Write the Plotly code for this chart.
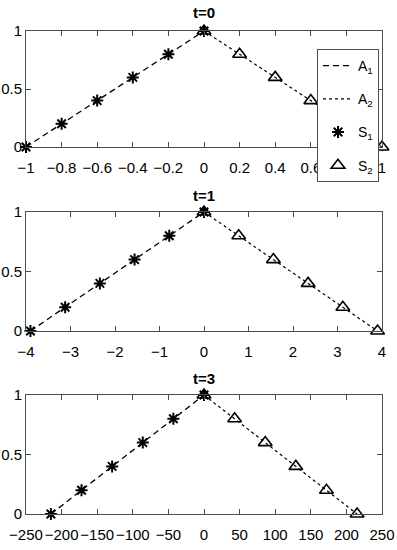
import plotly.graph_objects as go

# ---- data ----
titles = ["t=0", "t=1", "t=3"]
y_left = [0, 0.2, 0.4, 0.6, 0.8, 1]
y_right = [1, 0.8, 0.6, 0.4, 0.2, 0]

x_s1 = [
    [-1, -0.8, -0.6, -0.4, -0.2, 0],
    [-3.9, -3.12, -2.34, -1.56, -0.78, 0],
    [-215, -172, -129, -86, -43, 0],
]
x_s2 = [
    [0, 0.2, 0.4, 0.6, 0.8, 1],
    [0, 0.78, 1.56, 2.34, 3.12, 3.9],
    [0, 43, 86, 129, 172, 215],
]
x_ranges = [[-1, 1], [-4, 4], [-250, 250]]
x_ticks = [
    [-1, -0.8, -0.6, -0.4, -0.2, 0, 0.2, 0.4, 0.6, 0.8, 1],
    [-4, -3, -2, -1, 0, 1, 2, 3, 4],
    [-250, -200, -150, -100, -50, 0, 50, 100, 150, 200, 250],
]
y_ticks = [0, 0.5, 1]
y_ticktext = ["0", "0.5", "1"]

W, H = 397, 550
FONT = "Liberation Sans, Arial, sans-serif"
AX = "#4d4d4d"

# pixel boxes (left, right, top, bottom)
boxes = [(26, 382, 31, 147), (26, 382, 212, 331), (26, 382, 395, 514)]


def px(v):
    return v / W


def py(v):
    return 1 - v / H


fig = go.Figure()
for i in range(3):
    xa = "x" if i == 0 else f"x{i+1}"
    ya = "y" if i == 0 else f"y{i+1}"
    show = i == 0
    fig.add_trace(go.Scatter(x=x_s1[i], y=y_left, mode="lines", xaxis=xa, yaxis=ya,
                             line=dict(color="black", width=1.3, dash="6px,4px"),
                             name="A<sub>1</sub>", showlegend=show, legendgroup="a1",
                             cliponaxis=False))
    fig.add_trace(go.Scatter(x=x_s2[i], y=y_right, mode="lines", xaxis=xa, yaxis=ya,
                             line=dict(color="black", width=1.2, dash="dot"),
                             name="A<sub>2</sub>", showlegend=show, legendgroup="a2",
                             cliponaxis=False))
    fig.add_trace(go.Scatter(x=x_s1[i], y=y_left, mode="markers", xaxis=xa, yaxis=ya,
                             marker=dict(symbol="asterisk-open", size=10, color="black",
                                         line=dict(color="black", width=2)),
                             name="S<sub>1</sub>", showlegend=show, legendgroup="s1",
                             cliponaxis=False))
    fig.add_trace(go.Scatter(x=x_s2[i], y=y_right, mode="markers", xaxis=xa, yaxis=ya,
                             marker=dict(symbol="triangle-up-open", size=12, color="black",
                                         line=dict(color="black", width=1.6)),
                             name="S<sub>2</sub>", showlegend=show, legendgroup="s2",
                             cliponaxis=False))

layout = dict(
    width=W, height=H,
    margin=dict(l=0, r=0, t=0, b=0, autoexpand=False),
    paper_bgcolor="white", plot_bgcolor="white",
    font=dict(family=FONT, size=15, color="black"),
    showlegend=True,
    legend=dict(x=px(317), y=py(49), xanchor="left", yanchor="top",
                bgcolor="white", bordercolor=AX, borderwidth=1,
                traceorder="grouped", tracegroupgap=12,
                font=dict(family=FONT, size=14), itemwidth=30),
)
annotations = []
for i, (l, r, t, b) in enumerate(boxes):
    xk = "xaxis" if i == 0 else f"xaxis{i+1}"
    yk = "yaxis" if i == 0 else f"yaxis{i+1}"
    yref = "y" if i == 0 else f"y{i+1}"
    xref = "x" if i == 0 else f"x{i+1}"
    layout[xk] = dict(domain=[px(l), px(r)], range=x_ranges[i],
                      tickvals=x_ticks[i],
                      anchor=yref, showline=True, linecolor=AX, linewidth=1,
                      mirror="ticks", ticks="inside", ticklen=5, tickcolor=AX,
                      showgrid=False, zeroline=False, automargin=False, tickangle=0,
                      ticklabelstandoff=7,
                      tickfont=dict(family=FONT, size=15))
    layout[yk] = dict(domain=[py(b), py(t)], range=[0, 1], tickvals=y_ticks,
                      ticktext=y_ticktext,
                      anchor=xref, showline=True, linecolor=AX, linewidth=1,
                      mirror="ticks", ticks="inside", ticklen=5, tickcolor=AX,
                      showgrid=False, zeroline=False, automargin=False,
                      tickfont=dict(family=FONT, size=15))
    annotations.append(dict(text="<b>" + titles[i] + "</b>", xref="paper", yref="paper",
                            x=px((l + r) / 2), y=py(t), xanchor="center",
                            yanchor="bottom", yshift=6 if i > 0 else 8, showarrow=False,
                            font=dict(family=FONT, size=15, color="black")))
layout["annotations"] = annotations
fig.update_layout(**layout)
fig.write_html("out.html",
               config={"displayModeBar": False, "staticPlot": True},
               post_script="document.body.style.margin='0';"
                           "document.body.style.overflow='hidden';")
